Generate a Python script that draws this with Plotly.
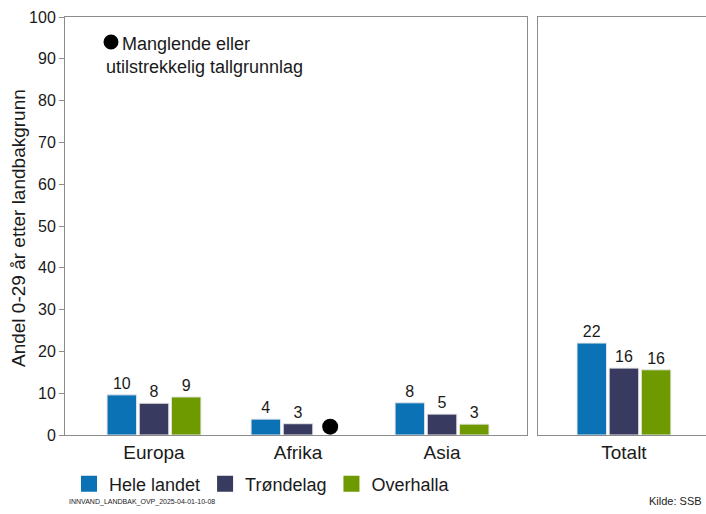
import plotly.graph_objects as go

# -- DATA --

regions = ["Europa", "Afrika", "Asia"]
total_label = ["Totalt"]

series_names = ["Hele landet", "Trøndelag", "Overhalla"]
series_colors = ["#0b72b5", "#383b5f", "#6e9a00"]

hele_landet = [9.6, 3.8, 7.7]
trondelag = [7.6, 2.7, 5.0]
overhalla = [9.1, None, 2.6]

hele_landet_total = [22.0]
trondelag_total = [16.0]
overhalla_total = [15.6]

# Overhalla value missing for Afrika: marked with a dot
missing_marker_value = 2

values = [hele_landet, trondelag, overhalla]
values_total = [hele_landet_total, trondelag_total, overhalla_total]

# -- LAYOUT HELPERS --

W, H = 706, 514
L, R, T, B = 65, 0, 17, 79
plot_w = W - L - R
plot_h = H - T - B
BARGAP = 0.33


def px_x(px):
    return (px - L) / plot_w


def px_y(py):
    return (H - B - py) / plot_h


fig = go.Figure()

for name, color, vals, tot in zip(series_names, series_colors, values, values_total):
    fig.add_trace(go.Bar(
        x=list(range(len(regions))),
        y=vals,
        name=name,
        marker=dict(color=color, line=dict(color="#e8e8e8", width=1)),
        text=[f"{v:.0f}" if v is not None else "" for v in vals],
        textposition="outside",
        textfont=dict(size=16, color="#1a1a1a"),
        cliponaxis=False,
        showlegend=False,
        xaxis="x", yaxis="y",
    ))
    fig.add_trace(go.Bar(
        x=[0],
        y=tot,
        name=name,
        marker=dict(color=color, line=dict(color="#e8e8e8", width=1)),
        text=[f"{v:.0f}" for v in tot],
        textposition="outside",
        textfont=dict(size=16, color="#1a1a1a"),
        cliponaxis=False,
        showlegend=False,
        xaxis="x2", yaxis="y2",
    ))

# missing-data dot in the Overhalla slot
slot_w = (1 - BARGAP) / len(series_names)
k_over = series_names.index("Overhalla")
miss_x = [i + (k_over - 1) * slot_w for i, v in enumerate(overhalla) if v is None]
fig.add_trace(go.Scatter(
    x=miss_x, y=[missing_marker_value] * len(miss_x),
    mode="markers",
    marker=dict(color="black", size=16),
    showlegend=False, hoverinfo="skip",
    xaxis="x", yaxis="y",
))

# legend entries with big square keys
for name, color in zip(series_names, series_colors):
    fig.add_trace(go.Scatter(
        x=[None], y=[None], mode="markers", name=name,
        marker=dict(symbol="square", size=19, color=color),
        xaxis="x", yaxis="y",
    ))

axis_line = "#8c8c8c"
tick_font = dict(size=16, color="#1a1a1a")

fig.update_layout(
    width=W, height=H,
    margin=dict(l=L, r=R, t=T, b=B),
    paper_bgcolor="white", plot_bgcolor="white",
    barmode="group", bargap=BARGAP, bargroupgap=0.08,
    font=dict(family="Liberation Sans, Arial, sans-serif", color="#1a1a1a"),
    xaxis=dict(
        domain=[0, px_x(527)], range=[-0.618, 2.59],
        tickvals=list(range(len(regions))), ticktext=regions,
        tickfont=dict(size=19, color="#1a1a1a"),
        showline=True, linecolor=axis_line, linewidth=1, mirror=True,
        ticks="", showgrid=False, zeroline=False, fixedrange=True,
    ),
    yaxis=dict(
        range=[0, 100], dtick=10,
        tickfont=tick_font,
        showline=True, linecolor=axis_line, linewidth=1, mirror=True,
        ticks="outside", ticklen=5, tickcolor=axis_line,
        showgrid=False, zeroline=False,
    ),
    xaxis2=dict(
        domain=[px_x(538), 1], range=[-0.597, 0.57],
        tickvals=[0], ticktext=total_label,
        tickfont=dict(size=19, color="#1a1a1a"),
        showline=True, linecolor=axis_line, linewidth=1, mirror=True,
        ticks="", showgrid=False, zeroline=False, anchor="y2",
    ),
    yaxis2=dict(
        range=[0, 100], anchor="x2",
        showticklabels=False, ticks="",
        showline=True, linecolor=axis_line, linewidth=1, mirror=False,
        showgrid=False, zeroline=False,
    ),
    legend=dict(
        orientation="h", x=px_x(69), y=px_y(484),
        xanchor="left", yanchor="middle",
        font=dict(size=18, color="#1a1a1a"),
        itemsizing="trace", bgcolor="rgba(0,0,0,0)",
    ),
    showlegend=True,
)

# y axis title
fig.add_annotation(
    text="Andel 0-29 år etter landbakgrunn",
    xref="paper", yref="paper", x=px_x(18), y=px_y(228),
    xanchor="center", yanchor="middle",
    textangle=-90, showarrow=False,
    font=dict(size=19, color="#1a1a1a"),
)

# missing-data key
fig.add_shape(
    type="circle", xref="paper", yref="paper",
    xsizemode="pixel", ysizemode="pixel",
    xanchor=px_x(111), yanchor=px_y(42),
    x0=-7.5, x1=7.5, y0=-7.5, y1=7.5,
    fillcolor="black", line=dict(width=0),
)
fig.add_annotation(
    text="Manglende eller", xref="paper", yref="paper",
    x=px_x(120), y=px_y(44), xanchor="left", yanchor="middle", showarrow=False,
    font=dict(size=18, color="#1a1a1a"),
)
fig.add_annotation(
    text="utilstrekkelig tallgrunnlag", xref="paper", yref="paper",
    x=px_x(104), y=px_y(67), xanchor="left", yanchor="middle", showarrow=False,
    font=dict(size=18, color="#1a1a1a"),
)

# footer
fig.add_annotation(
    text="INNVAND_LANDBAK_OVP_2025-04-01-10-08", xref="paper", yref="paper",
    x=px_x(67), y=px_y(508), xanchor="left", showarrow=False,
    font=dict(size=7, color="#1a1a1a"),
)
fig.add_annotation(
    text="Kilde: SSB", xref="paper", yref="paper",
    x=px_x(704), y=px_y(509), xanchor="right", showarrow=False,
    font=dict(size=11, color="#1a1a1a"),
)

fig.write_html(
    "out.html",
    config={"displayModeBar": False},
    post_script="document.body.style.margin='0';",
)
